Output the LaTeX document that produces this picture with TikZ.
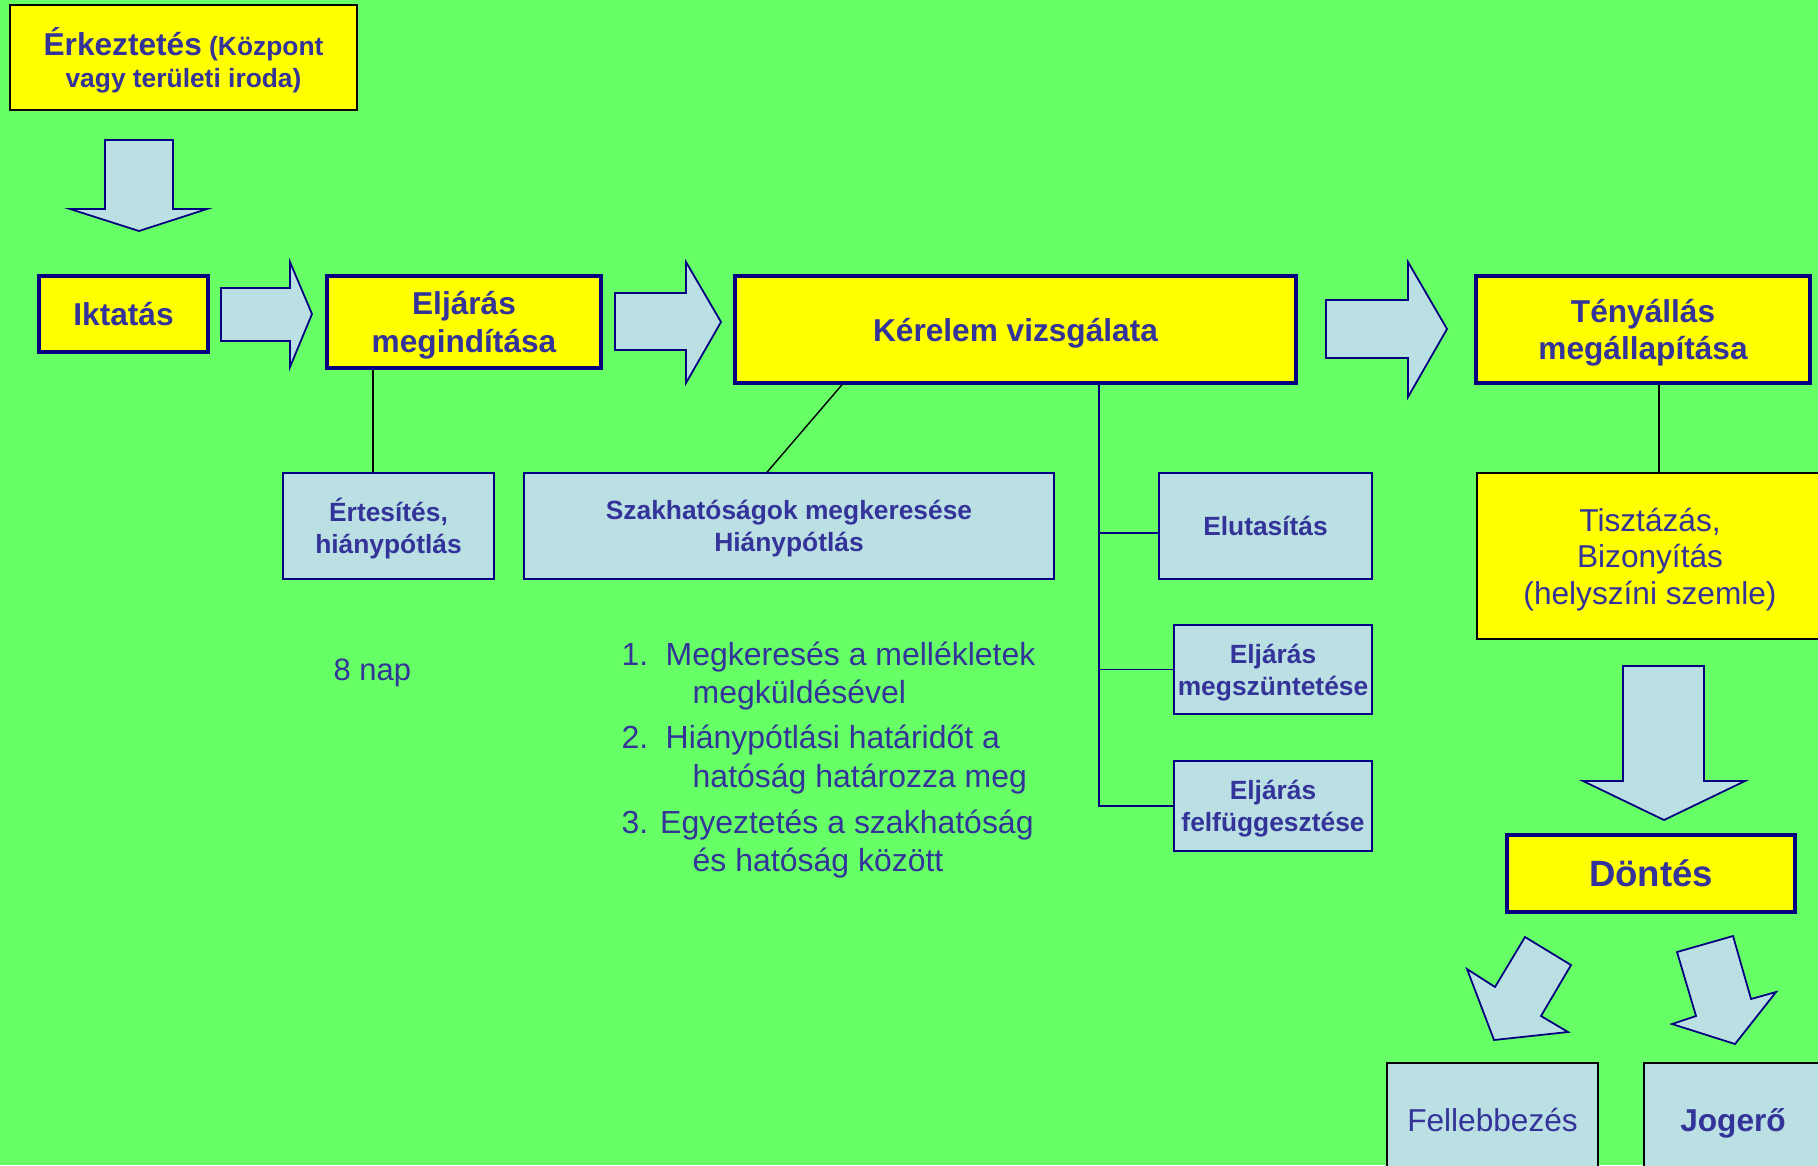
\documentclass[tikz,border=0pt]{standalone}
\usepackage{fontspec}
\setmainfont{Liberation Sans}
\definecolor{hatter}{HTML}{66FF66}
\definecolor{sarga}{HTML}{FFFF00}
\definecolor{vkek}{HTML}{BBE0E3}
\definecolor{sotetkek}{HTML}{000080}
\definecolor{betu}{HTML}{333399}

\begin{document}
\begin{tikzpicture}[
    x=0.1mm, y=-0.1mm,
    fobox/.style={rectangle, draw=sotetkek, line width=1pt, fill=sarga, text=betu, align=center, inner sep=0pt, text depth=0pt, font=\fontsize{9}{10.6}\selectfont\bfseries},
    albox/.style={rectangle, draw=sotetkek, line width=0.45pt, fill=vkek, text=betu, align=center, inner sep=0pt, text depth=0pt, font=\fontsize{7.5}{9.1}\selectfont\bfseries},
    nyil/.style={draw=sotetkek, line width=0.5pt, fill=vkek, line join=miter},
    vonal/.style={black, line width=0.4pt},
    ag/.style={sotetkek, line width=0.5pt},
    szoveg/.style={text=betu, inner sep=0pt, anchor=base west, font=\fontsize{9.1}{10.8}\selectfont}
]
\useasboundingbox (0,0) rectangle (1818,1165);
\clip (0,0) rectangle (1818,1165);
\fill[hatter] (0,0) rectangle (1818,1165);

% Felső sor
\node[fobox, draw=black, line width=0.6pt, minimum width=34.7mm, minimum height=10.5mm, font=\fontsize{7.5}{9.1}\selectfont\bfseries] (erk) at (183.5,57.5) {{\fontsize{9}{9.1}\selectfont Érkeztetés} (Központ\\vagy területi iroda)};
\node[fobox, minimum width=16.9mm, minimum height=7.6mm] (ikt) at (123.5,314) {Iktatás};
\node[fobox, minimum width=27.4mm, minimum height=9.2mm] (megind) at (464,322) {Eljárás\\megindítása};
\node[fobox, minimum width=56.1mm, minimum height=10.7mm] (kerelem) at (1015.5,329.5) {Kérelem vizsgálata};
\node[fobox, minimum width=33.4mm, minimum height=10.7mm] (teny) at (1643,329.5) {Tényállás\\megállapítása};

% Második sor
\node[albox, minimum width=21.1mm, minimum height=10.6mm] (ert) at (388.5,526) {Értesítés,\\hiánypótlás};
\node[albox, minimum width=53mm, minimum height=10.6mm] (szakh) at (789,526) {Szakhatóságok megkeresése\\Hiánypótlás};
\node[albox, minimum width=21.3mm, minimum height=10.6mm] (elut) at (1265.5,526) {Elutasítás};
\node[albox, minimum width=19.8mm, minimum height=8.9mm] (megszun) at (1273,669.5) {Eljárás\\megszüntetése};
\node[albox, minimum width=19.8mm, minimum height=9mm] (felfugg) at (1273,806) {Eljárás\\felfüggesztése};
\node[fobox, draw=black, line width=0.5pt, minimum width=34.6mm, minimum height=16.6mm, font=\fontsize{9}{10.4}\selectfont] (tisz) at (1650,556) {Tisztázás,\\Bizonyítás\\(helyszíni szemle)};

% Döntés
\node[fobox, minimum width=28.8mm, minimum height=7.7mm, font=\fontsize{10.4}{12}\selectfont\bfseries] (dontes) at (1651,873.5) {Döntés};
\node[albox, draw=black, line width=0.5pt, minimum width=21.1mm, minimum height=11.4mm, font=\fontsize{9}{10.8}\selectfont] (fell) at (1492.5,1120) {Fellebbezés};
\node[albox, draw=black, line width=0.5pt, minimum width=17.8mm, minimum height=11.4mm, font=\fontsize{9}{10.8}\selectfont\bfseries] (jog) at (1733,1120) {Jogerő};

% Szövegek
\node[szoveg, font=\fontsize{8.8}{10.5}\selectfont] (nap) at (333,680) {8 nap};
\node[szoveg] (p1a) at (621,665) {\makebox[4.4mm][l]{1.}Megkeresés a mellékletek};
\node[szoveg] (p1b) at (692,703) {megküldésével};
\node[szoveg] (p2a) at (621,748) {\makebox[4.4mm][l]{2.}Hiánypótlási határidőt a};
\node[szoveg] (p2b) at (692,787) {hatóság határozza meg};
\node[szoveg] (p3a) at (621,833) {3. Egyeztetés a szakhatóság};
\node[szoveg] (p3b) at (692,871) {és hatóság között};

% Nyilak
\draw[nyil] (105,140) -- (173,140) -- (173,209) -- (207,209) -- (139,231) -- (70,209) -- (105,209) -- cycle;
\draw[nyil] (221,288) -- (290,288) -- (290,262) -- (312,314) -- (290,367) -- (290,341) -- (221,341) -- cycle;
\draw[nyil] (615,293) -- (686,293) -- (686,262) -- (721,322) -- (686,383) -- (686,350) -- (615,350) -- cycle;
\draw[nyil] (1326,300) -- (1408,300) -- (1408,262) -- (1447,329) -- (1408,397) -- (1408,358) -- (1326,358) -- cycle;
\draw[nyil] (1623,666) -- (1704,666) -- (1704,781) -- (1745,781) -- (1664,820) -- (1583,781) -- (1623,781) -- cycle;
\draw[nyil] (1525,937) -- (1571,965) -- (1541,1016) -- (1568,1032) -- (1494,1040) -- (1467,969) -- (1495,987) -- cycle;
\draw[nyil] (1677,952) -- (1733,936) -- (1751,999) -- (1776,992) -- (1735,1044) -- (1672,1024) -- (1696,1016) -- cycle;

% Vonalak
\coordinate (mx) at (373,0);
\coordinate (ka) at (842,0);
\coordinate (kb) at (767,0);
\coordinate (bx) at (1099,0);
\coordinate (tx) at (1659,0);
\coordinate (e1) at ([yshift=-0.7mm]elut.west);
\draw[vonal] (mx |- megind.south) -- (mx |- ert.north);
\draw[vonal] (ka |- kerelem.south) -- (kb |- szakh.north);
\draw[ag] (bx |- kerelem.south) |- (felfugg.west);
\draw[ag] (bx |- megszun.west) -- (megszun.west);
\draw[ag] (bx |- e1) -- (e1);
\draw[vonal] (tx |- teny.south) -- (tx |- tisz.north);
\end{tikzpicture}
\end{document}
